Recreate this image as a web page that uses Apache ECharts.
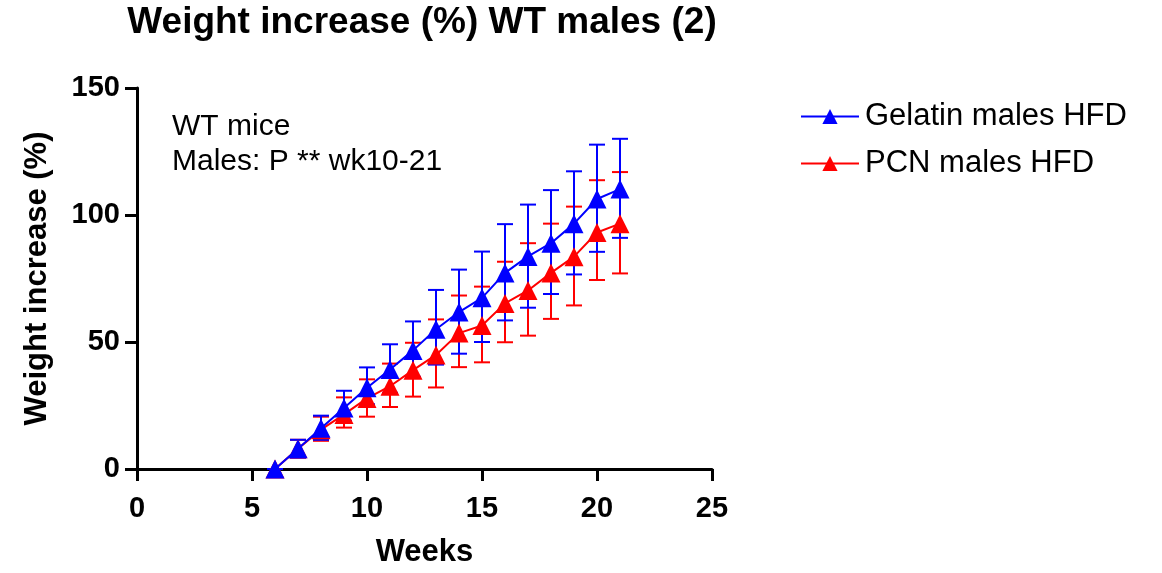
<!DOCTYPE html>
<html><head><meta charset="utf-8">
<script src="https://cdn.jsdelivr.net/npm/echarts@6/dist/echarts.min.js"></script>
<style>html,body{margin:0;padding:0;background:#fff}#c{width:1162px;height:573px}</style>
</head><body><div id="c"></div>
<script>
const weeks = [6,7,8,9,10,11,12,13,14,15,16,17,18,19,20,21];
const gelatinMean = [0,8,16,24,32,39.2,46.7,55,61.8,67.4,77.2,83.7,88.9,96.6,106.3,110.2];
const gelatinLow  = [0,4.5,11.5,19,25.5,30,36.3,41.1,45.4,50,58.5,63.5,68.9,76.6,85.5,91];
const gelatinHigh = [0,11.5,21,30.8,40,49.1,58.1,70.5,78.5,85.6,96.4,104.1,109.8,117.2,127.7,130];
const pcnMean = [0,8,15.5,21.5,27.8,32.6,38.9,44.9,53.5,56.5,65.2,70.3,77.2,83.6,93.1,96.6];
const pcnLow  = [0,4.5,11.1,16.3,20.6,24.4,28.5,32.1,40.1,42,49.9,52.5,59.1,64.4,74.4,77];
const pcnHigh = [0,11.5,20.6,28.2,35.3,41.5,49.7,58.9,68.3,71.8,81.6,88.9,96.6,103.3,113.7,116.9];
const xTicks = [0,5,10,15,20,25];
const yTicks = [0,50,100,150];

const FONT = 'Liberation Sans, Arial, sans-serif';
function errSeries(name, low, high, color, z) {
  return {
    type: 'custom', name: name, z: z, silent: true,
    data: weeks.map((w, i) => [w, low[i], high[i]]),
    renderItem: function (params, api) {
      const x = api.value(0);
      const lo = api.coord([x, api.value(1)]);
      const hi = api.coord([x, api.value(2)]);
      const hw = 8;
      const st = { stroke: color, lineWidth: 2 };
      return { type: 'group', children: [
        { type: 'line', shape: { x1: lo[0], y1: lo[1], x2: hi[0], y2: hi[1] }, style: st },
        { type: 'line', shape: { x1: hi[0]-hw, y1: hi[1], x2: hi[0]+hw, y2: hi[1] }, style: st },
        { type: 'line', shape: { x1: lo[0]-hw, y1: lo[1], x2: lo[0]+hw, y2: lo[1] }, style: st }
      ]};
    }
  };
}
function lineSeries(name, mean, color, z) {
  return {
    type: 'line', name: name, z: z,
    data: weeks.map((w, i) => [w, mean[i]]),
    symbol: 'triangle', symbolSize: 19,
    itemStyle: { color: color },
    lineStyle: { color: color, width: 2 },
    emphasis: { disabled: true }
  };
}
const chart = echarts.init(document.getElementById('c'));
chart.setOption({
  animation: false,
  backgroundColor: '#fff',
  title: {
    text: 'Weight increase (%) WT males (2)',
    left: 422, top: 4, textAlign: 'center', padding: 0,
    textStyle: { fontFamily: FONT, fontSize: 37, fontWeight: 'bold', color: '#000' }
  },
  legend: {
    data: ['Gelatin males HFD', 'PCN males HFD'],
    orient: 'vertical', left: 800, top: 101, itemGap: 16, padding: 0,
    itemWidth: 58, itemHeight: 19,
    textStyle: { fontFamily: FONT, fontSize: 31, color: '#000', padding: [0,0,0,1] }
  },
  grid: { left: 137, right: 450, top: 88, bottom: 102, containLabel: false },
  xAxis: {
    type: 'value', min: 0, max: 25, interval: 5,
    name: 'Weeks', nameLocation: 'middle', nameGap: 68,
    nameTextStyle: { fontFamily: FONT, fontSize: 31, fontWeight: 'bold', color: '#000' },
    axisLine: { onZero: false, lineStyle: { color: '#000', width: 3 } },
    axisTick: { show: true, length: 12, lineStyle: { color: '#000', width: 3 } },
    axisLabel: { fontFamily: FONT, fontSize: 29, fontWeight: 'bold', color: '#000', margin: 25,
      formatter: v => xTicks.includes(v) ? String(v) : '' },
    splitLine: { show: false }
  },
  yAxis: {
    type: 'value', min: 0, max: 150, interval: 50,
    name: 'Weight increase (%)', nameLocation: 'middle', nameGap: 84, nameRotate: 90,
    nameTextStyle: { fontFamily: FONT, fontSize: 31, fontWeight: 'bold', color: '#000' },
    axisLine: { show: true, onZero: false, lineStyle: { color: '#000', width: 3 } },
    axisTick: { show: true, length: 12, lineStyle: { color: '#000', width: 3 } },
    axisLabel: { fontFamily: FONT, fontSize: 29, fontWeight: 'bold', color: '#000', margin: 17,
      formatter: v => yTicks.includes(v) ? String(v) : '' },
    splitLine: { show: false }
  },
  graphic: [
    { type: 'text', left: 172, top: 109, style: { text: 'WT mice\nMales: P ** wk10-21',
      font: '30px ' + FONT, fill: '#000', lineHeight: 35 } }
  ],
  series: [
    errSeries('PCN err', pcnLow, pcnHigh, '#ff0000', 2),
    errSeries('Gelatin err', gelatinLow, gelatinHigh, '#0000ff', 3),
    lineSeries('PCN males HFD', pcnMean, '#ff0000', 4),
    lineSeries('Gelatin males HFD', gelatinMean, '#0000ff', 5)
  ]
});
</script></body></html>
